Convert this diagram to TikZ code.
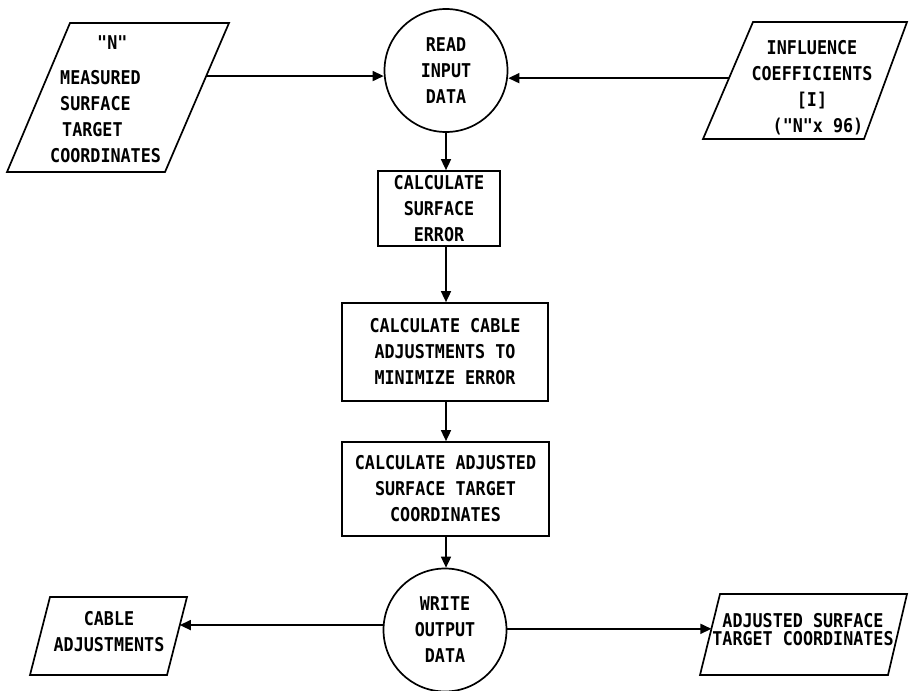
\documentclass[tikz,border=0pt]{standalone}
\usepackage{fontspec}
\setmainfont{DejaVu Sans}
\newfontfamily\lerfont[FakeStretch=0.88]{DejaVu Sans Mono}
\usetikzlibrary{arrows.meta,calc}
\begin{document}
\begin{tikzpicture}[x=1pt,y=-1pt,
  lbl/.style={font=\lerfont\bfseries\fontsize{19}{26}\selectfont, align=center, inner sep=0pt},
  box/.style={lbl, draw, line width=1.7pt, rectangle},
  term/.style={lbl, draw, line width=1.7pt, circle, minimum size=123pt},
  io/.style={draw, line width=1.7pt, line join=miter},
  arr/.style={line width=1.6pt, -{Triangle[length=11pt,width=10pt]}}]
\useasboundingbox (0,0) rectangle (909,690);

% process nodes
\node[term] (read) at (446,70.5) {READ\\INPUT\\DATA};
\node[box, minimum width=122, minimum height=75] (err) at (439,208.5) {CALCULATE\\SURFACE\\ERROR};
\node[box, minimum width=206, minimum height=98] (adj) at (445,352) {CALCULATE CABLE\\ADJUSTMENTS TO\\MINIMIZE ERROR};
\node[box, minimum width=207, minimum height=94] (tgt) at (445.5,489) {CALCULATE ADJUSTED\\SURFACE TARGET\\COORDINATES};
\node[term] (write) at (445,630) {WRITE\\OUTPUT\\DATA};

% input / output parallelograms (corners)
\coordinate (measTL) at (70,23);   \coordinate (measTR) at (229,23);
\coordinate (measBR) at (165,172); \coordinate (measBL) at (7,172);
\draw[io] (measTL) -- (measTR) -- (measBR) -- (measBL) -- cycle;
\node[lbl, align=left, anchor=west] (meast) at (50,99) {\hspace*{47pt}"N"\\[9pt]\hspace*{10pt}MEASURED\\\hspace*{10pt}SURFACE\\\hspace*{12pt}TARGET\\COORDINATES};

\coordinate (inflTL) at (753,22);  \coordinate (inflTR) at (907,22);
\coordinate (inflBR) at (864,139); \coordinate (inflBL) at (703,139);
\draw[io] (inflTL) -- (inflTR) -- (inflBR) -- (inflBL) -- cycle;
\node[lbl] (inflt) at (812,88) {INFLUENCE\\COEFFICIENTS\\{[I]}\\\hspace*{12pt}("N"x 96)};

\coordinate (cableTL) at (50,597);  \coordinate (cableTR) at (187,597);
\coordinate (cableBR) at (167,675); \coordinate (cableBL) at (30,675);
\draw[io] (cableTL) -- (cableTR) -- (cableBR) -- (cableBL) -- cycle;
\node[lbl] (cablet) at (109,632) {CABLE\\ADJUSTMENTS};

\coordinate (adjtTL) at (720,594);  \coordinate (adjtTR) at (907,594);
\coordinate (adjtBR) at (888,675);  \coordinate (adjtBL) at (700,675);
\draw[io] (adjtTL) -- (adjtTR) -- (adjtBR) -- (adjtBL) -- cycle;
\node[lbl, font=\lerfont\bfseries\fontsize{19}{18}\selectfont] (adjtt) at (803,630) {ADJUSTED SURFACE\\TARGET COORDINATES};

% connectors
\coordinate (measP) at ($(measTR)!0.356!(measBR)$);
\draw[arr] (measP) -- (measP -| read.west);
\coordinate (inflP) at ($(inflTL)!0.48!(inflBL)$);
\draw[arr] (inflP) -- (inflP -| read.east);

\draw[arr] (read.south) -- (read.south |- err.north);
\draw[arr] (read |- err.south) -- (read |- adj.north);
\draw[arr] (read |- adj.south) -- (read |- tgt.north);
\draw[arr] (read |- tgt.south) -- (read |- write.north);

\coordinate (cableP) at ($(cableTR)!0.36!(cableBR)$);
\draw[arr] (cableP -| write.west) -- (cableP);
\coordinate (adjtP) at ($(adjtTL)!0.43!(adjtBL)$);
\draw[arr] (adjtP -| write.east) -- (adjtP);
\end{tikzpicture}
\end{document}
